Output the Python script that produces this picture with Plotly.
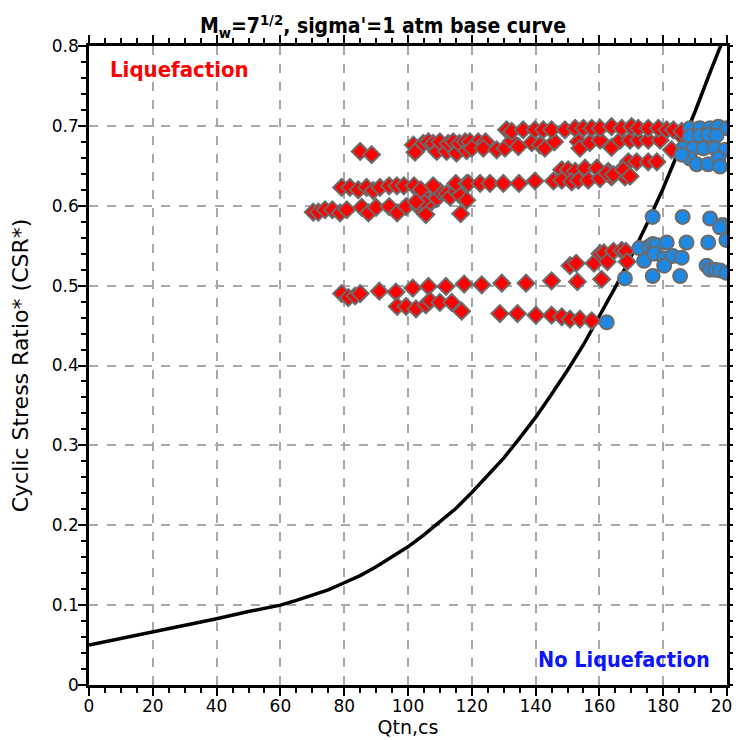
import plotly.graph_objects as go

# Base curve (Qtn,cs vs CRR)
curve_x = [0, 10, 20, 30, 40, 50, 55, 60, 65, 70, 75, 80, 85, 90, 95, 100, 105, 110, 115, 120,
           125, 130, 135, 140, 145, 150, 155, 160, 165, 170, 175, 180, 185, 190, 195, 198, 200]
curve_y = [0.050, 0.058, 0.067, 0.075, 0.083, 0.092, 0.096, 0.100, 0.106, 0.112, 0.119, 0.128,
           0.137, 0.148, 0.160, 0.173, 0.188, 0.204, 0.221, 0.241, 0.262, 0.284, 0.309, 0.335,
           0.364, 0.394, 0.426, 0.461, 0.498, 0.537, 0.578, 0.622, 0.669, 0.718, 0.770, 0.800, 0.824]

# Liquefaction cases (red diamonds)
liq_x = [79.2, 81.3, 83.4, 85, 91, 96.2, 101.5, 106.4, 111.9, 117.6, 123.1, 129.4, 137, 145, 153.1, 160.7,
         150.8, 152.7, 158.3, 160.2, 161.4, 162.5, 164.4, 167, 168.3, 168.7,
         96.6, 99.4, 102.5, 105.6, 106.9, 110, 113.7, 116.8, 128.8, 134.3, 140.1, 145, 148.2, 150.8, 153.9, 157.6,
         70.3, 71.9, 74, 76.3, 78.7, 80.8, 85.5, 87.6, 90, 94.1, 96.6, 99.4,
         103.2, 103.8, 105.3, 106.9, 109, 110, 112.1, 113.2, 115.2, 116.3, 118.4, 105.8, 105.6, 116.5, 104.5, 102.5,
         79.2, 81.8, 84.4, 87, 89.1, 91.2, 94.1, 96.5, 98.7, 101.9, 104, 107.9, 115, 118.4, 118.9, 122.6, 125.7,
         129.9, 134.8, 139.8, 145.6,
         148.2, 150.2, 152.4, 155.5, 159.2, 162.8, 167, 169.1, 148.2, 151.3, 153.4, 156.5, 160.2, 163.8, 168,
         162.3, 164.4, 167.5, 169.6, 171.7, 175.3, 178,
         85, 88.6,
         101.7, 102.2, 104.8, 106.4, 107.9, 109, 110, 112.1, 112.6, 114.2, 115.2, 116.1, 117.9, 118.4, 119.4,
         122, 124.3, 120, 123.6, 127.8, 130.4, 132.5, 134.6, 138.8, 141.4, 142.9, 145.9, 153.4, 153.9, 157,
         160.2, 163.8, 166.5, 169.6, 172.2, 175.3, 179, 182.6, 185.8,
         130.9, 132.5, 136.1, 139.8, 142.4, 145, 149.2, 152.4, 155, 157.6, 160.2, 163.8, 167, 170.1, 172.2,
         175.3, 178.5, 181.1, 183.2, 185.8]
liq_y = [0.490, 0.485, 0.487, 0.490, 0.493, 0.492, 0.497, 0.499, 0.499, 0.502, 0.501, 0.503, 0.503, 0.506, 0.505, 0.508,
         0.525, 0.528, 0.528, 0.540, 0.541, 0.530, 0.543, 0.544, 0.543, 0.530,
         0.474, 0.474, 0.471, 0.476, 0.481, 0.479, 0.479, 0.468, 0.465, 0.465, 0.463, 0.463, 0.461, 0.458, 0.458, 0.456,
         0.592, 0.592, 0.595, 0.595, 0.591, 0.595, 0.598, 0.591, 0.598, 0.599, 0.591, 0.599,
         0.599, 0.603, 0.611, 0.603, 0.609, 0.618, 0.615, 0.611, 0.618, 0.613, 0.607, 0.601, 0.589, 0.590, 0.606, 0.605,
         0.623, 0.623, 0.620, 0.623, 0.619, 0.623, 0.625, 0.625, 0.625, 0.625, 0.620, 0.625, 0.628, 0.628, 0.628, 0.628, 0.628,
         0.628, 0.628, 0.631, 0.631,
         0.645, 0.645, 0.643, 0.647, 0.647, 0.643, 0.645, 0.655, 0.632, 0.630, 0.632, 0.632, 0.634, 0.636, 0.636,
         0.641, 0.639, 0.645, 0.637, 0.655, 0.655, 0.655,
         0.668, 0.664,
         0.676, 0.667, 0.678, 0.680, 0.678, 0.668, 0.680, 0.668, 0.678, 0.680, 0.666, 0.678, 0.680, 0.669, 0.680,
         0.680, 0.680, 0.672, 0.672, 0.670, 0.672, 0.681, 0.674, 0.679, 0.676, 0.672, 0.680, 0.680, 0.672, 0.679,
         0.682, 0.673, 0.682, 0.682, 0.682, 0.682, 0.682, 0.670, 0.687,
         0.695, 0.693, 0.695, 0.695, 0.695, 0.695, 0.695, 0.697, 0.697, 0.697, 0.697, 0.699, 0.697, 0.699, 0.697,
         0.697, 0.697, 0.695, 0.695, 0.693]

# No-liquefaction cases (blue circles)
noliq_x = [176.7, 186.1, 194.7, 198.6, 197.8, 199.8, 172.5, 175.6, 176.7, 177.9, 181.1, 187.3, 194.1,
           174, 177.1, 180.3, 183, 185.8, 180.3, 176.7, 185.3, 168, 193.6, 194.7, 196.2, 197.8, 199.8, 162.3,
           188.4, 191.5, 194.7, 197.3, 199.9, 188.4, 191.5, 194.1, 196.7, 186.3, 189.5, 192.6, 196.2, 199.4,
           188.4, 190.5, 194.1, 197.3, 197.8, 185.8]
noliq_y = [0.586, 0.586, 0.584, 0.576, 0.573, 0.557, 0.547, 0.549, 0.552, 0.551, 0.554, 0.554, 0.554,
           0.531, 0.540, 0.534, 0.537, 0.535, 0.525, 0.512, 0.512, 0.509, 0.525, 0.520, 0.520, 0.519, 0.516, 0.454,
           0.697, 0.697, 0.697, 0.699, 0.697, 0.687, 0.688, 0.689, 0.688, 0.672, 0.672, 0.672, 0.672, 0.670,
           0.659, 0.652, 0.652, 0.659, 0.649, 0.664]

x_ticks = [0, 20, 40, 60, 80, 100, 120, 140, 160, 180, 200]
y_ticks = [0, 0.1, 0.2, 0.3, 0.4, 0.5, 0.6, 0.7, 0.8]

fig = go.Figure()
fig.add_trace(go.Scatter(x=curve_x, y=curve_y, mode="lines",
                         line=dict(color="black", width=3.5), showlegend=False, hoverinfo="skip"))
fig.add_trace(go.Scatter(x=liq_x, y=liq_y, mode="markers", showlegend=False,
                         marker=dict(symbol="diamond", size=13, color="#ff0000",
                                     line=dict(color="#6b6b6b", width=2))))
fig.add_trace(go.Scatter(x=noliq_x, y=noliq_y, mode="markers", showlegend=False,
                         marker=dict(symbol="circle", size=14, color="#1e88e5",
                                     line=dict(color="#6b6b6b", width=2))))

axis_common = dict(
    showline=True, linecolor="black", linewidth=2.5, mirror="allticks",
    ticks="outside", ticklen=8, tickwidth=1.5, tickcolor="black",
    showgrid=True, gridcolor="#a8a8a8", gridwidth=1.5, griddash="dash",
    zeroline=False, automargin=False, ticklabelstandoff=-4,
    tickfont=dict(family="DejaVu Sans", size=17, color="black"),
)

fig.update_xaxes(range=[0, 200], tickvals=x_ticks, ticktext=[str(v) for v in x_ticks],
                 minor=dict(dtick=5, ticks="outside", ticklen=5, tickcolor="black", showgrid=False),
                 title=dict(text="Qtn,cs", font=dict(family="DejaVu Sans", size=19, color="black"), standoff=0),
                 **axis_common)
fig.update_yaxes(range=[0, 0.8], tickvals=y_ticks, ticktext=["0", "0.1", "0.2", "0.3", "0.4", "0.5", "0.6", "0.7", "0.8"],
                 minor=dict(dtick=0.02, ticks="outside", ticklen=5, tickcolor="black", showgrid=False),
                 title=dict(text="Cyclic Stress Ratio* (CSR*)", font=dict(family="DejaVu Sans", size=22, color="black"), standoff=24),
                 **axis_common)

fig.add_annotation(x=0.03, y=0.963, xref="paper", yref="paper", xanchor="left", yanchor="middle",
                   text="<b>Liquefaction</b>", showarrow=False,
                   font=dict(family="DejaVu Sans Condensed", size=22, color="#ff0000"))
fig.add_annotation(x=0.976, y=0.04, xref="paper", yref="paper", xanchor="right", yanchor="middle",
                   text="<b>No Liquefaction</b>", showarrow=False,
                   font=dict(family="DejaVu Sans Condensed", size=21.5, color="#0a14ff"))

# the page body adds an 8px offset, margins compensate for it
fig.update_layout(
    width=741, height=740,
    margin=dict(l=81, r=22, t=38, b=63),
    paper_bgcolor="white", plot_bgcolor="white",
    title=dict(text="<b>M<sub>w</sub>=7<sup>1/2</sup>, sigma'=1 atm base curve</b>",
               x=0.506, xanchor="center", y=0.9755, yanchor="middle",
               font=dict(family="DejaVu Sans Condensed", size=21, color="black")),
)

fig.write_html("out.html")
